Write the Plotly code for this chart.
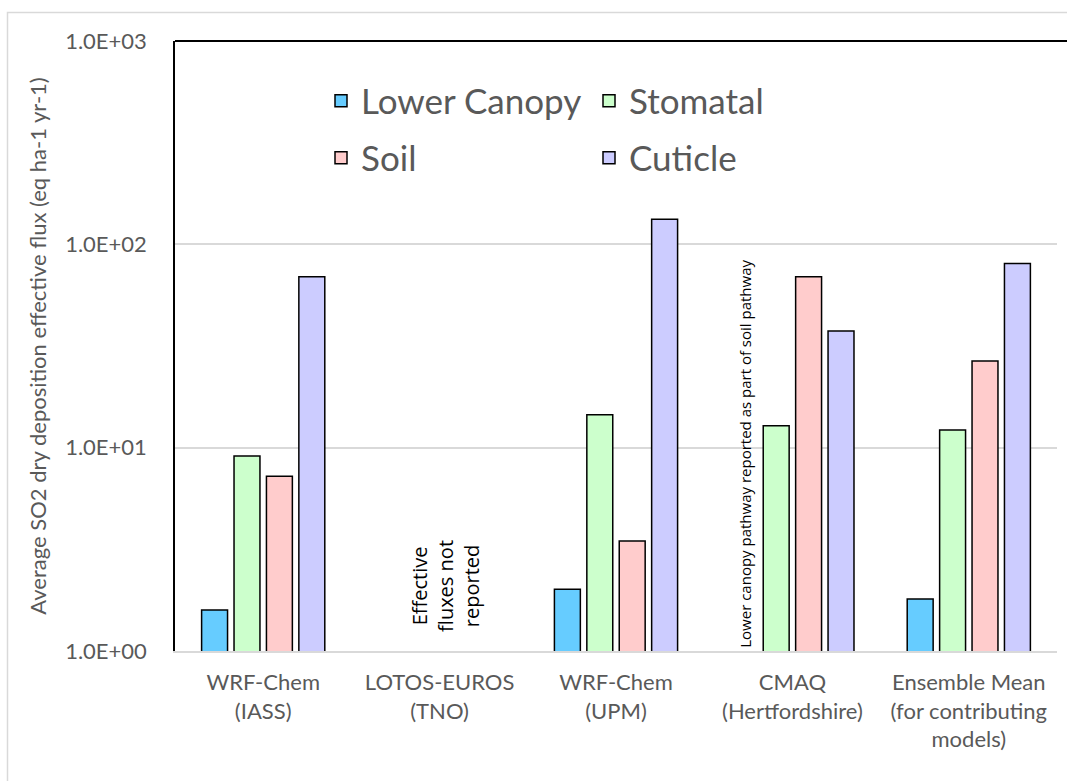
import plotly.graph_objects as go

categories = ["WRF-Chem<br>(IASS)", "LOTOS-EUROS<br>(TNO)", "WRF-Chem<br>(UPM)",
              "CMAQ<br>(Hertfordshire)", "Ensemble Mean<br>(for contributing<br>models)"]
lower_canopy = [1.59, None, 2.01, None, 1.80]
stomatal = [9.10, None, 14.5, 12.8, 12.2]
soil = [7.23, None, 3.48, 69.3, 26.7]
cuticle = [69.3, None, 132.8, 37.5, 80.4]

series = [
    ("Lower Canopy", lower_canopy, "#66CCFF", "legend"),
    ("Stomatal", stomatal, "#CCFFCC", "legend"),
    ("Soil", soil, "#FFCCCC", "legend2"),
    ("Cuticle", cuticle, "#CCCCFF", "legend2"),
]
tick_vals = [1, 10, 100, 1000]
tick_text = ["1.0E+00", "1.0E+01", "1.0E+02", "1.0E+03"]

GRAY = "#595959"
fig = go.Figure()
for name, vals, col, lg in series:
    fig.add_trace(go.Bar(x=categories, y=vals, name=name, legend=lg,
                         marker=dict(color=col, line=dict(color="#000000", width=1.5))))

W, H = 1067, 781
L, R, T, B = 175, 10, 41, 130
pw, ph = W - L - R, H - T - B

def px_x(p):
    return (p - L) / pw

def px_y(p):
    return (H - B - p) / ph

legend_common = dict(orientation="h", font=dict(family="Lato", size=35, color=GRAY),
                     bgcolor="rgba(0,0,0,0)", xanchor="left", yanchor="middle",
                     entrywidth=223, entrywidthmode="pixels", itemclick=False)

fig.update_layout(
    width=W, height=H,
    margin=dict(l=L, r=R, t=T, b=B),
    paper_bgcolor="white", plot_bgcolor="white",
    barmode="group", bargap=0.265, bargroupgap=0.2,
    font=dict(family="Lato", color=GRAY),
    legend=dict(x=px_x(321), y=px_y(101), **legend_common),
    legend2=dict(x=px_x(321), y=px_y(158), **legend_common),
    xaxis=dict(showgrid=False, showline=True, linecolor="#D9D9D9", linewidth=1.5,
               ticks="", tickfont=dict(family="Lato", size=22, color=GRAY),
               ticklabelstandoff=11),
    yaxis=dict(type="log", range=[0, 3], tickvals=tick_vals, ticktext=tick_text,
               showgrid=True, gridcolor="#D9D9D9", gridwidth=1.5,
               showline=True, linecolor="#000000", linewidth=1.5, ticks="",
               tickfont=dict(family="Lato", size=22, color=GRAY), ticklabelstandoff=22,
               title=dict(text="Average SO2 dry deposition effective flux (eq ha-1 yr-1)",
                          font=dict(family="Lato", size=22, color=GRAY), standoff=12)),
    shapes=[
        dict(type="rect", xref="paper", yref="paper", x0=px_x(7.5), x1=px_x(1080),
             y0=px_y(795), y1=px_y(12.5), line=dict(color="#D9D9D9", width=1.5),
             fillcolor="rgba(0,0,0,0)", layer="below"),
        dict(type="line", xref="paper", yref="paper", x0=0, x1=px_x(1067), y0=1, y1=1,
             line=dict(color="#000000", width=2)),
    ],
    annotations=[
        dict(text="Lower canopy pathway reported as part of soil pathway", xref="x", yref="paper",
             x=2.73, y=px_y(650), textangle=-90, xanchor="center", yanchor="bottom",
             showarrow=False, font=dict(family="Open Sans", size=15, color="#000000")),
        dict(text="Effective<br>fluxes not<br>reported", xref="x", yref="paper",
             x=1.03, y=px_y(634), textangle=-90, xanchor="center", yanchor="bottom",
             showarrow=False, font=dict(family="Open Sans", size=20, color="#000000")),
    ],
)

fig.write_html("out.html")
